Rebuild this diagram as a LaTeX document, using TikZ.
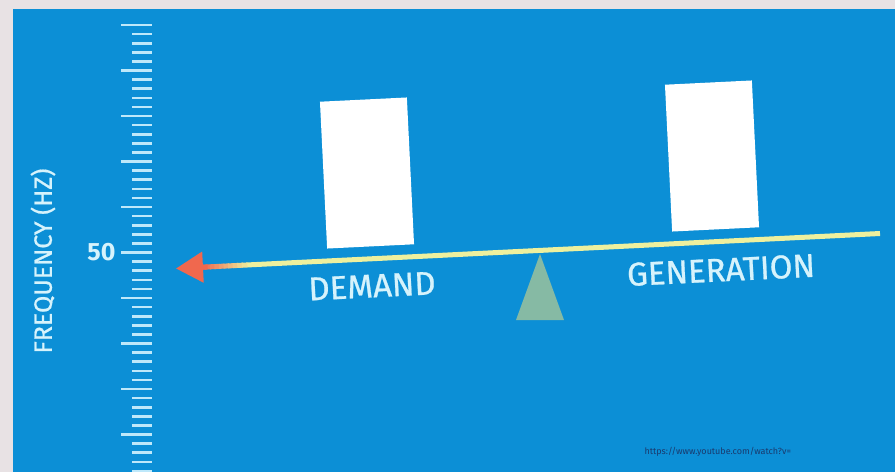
\documentclass[tikz,border=0pt]{standalone}
\usepackage{fontspec}
\setmainfont{Fira Sans}
\newfontfamily\lblfont{Fira Sans}[FakeBold=0.7]
\usetikzlibrary{arrows.meta,calc}
\definecolor{bgblue}{RGB}{12,143,214}
\definecolor{framec}{RGB}{232,226,228}
\definecolor{beamc}{RGB}{238,240,158}
\definecolor{arrc}{RGB}{240,104,78}
\definecolor{tickc}{RGB}{190,232,250}
\definecolor{txtc}{RGB}{214,243,252}
\definecolor{pivc}{RGB}{134,186,164}
\definecolor{urlc}{RGB}{26,58,110}

\begin{document}
\begin{tikzpicture}[x=1pt,y=-1pt,
  tick/.style={tickc,line width=2.6pt},
  blk/.style={fill=white,minimum width=87pt,minimum height=147pt,inner sep=0pt,rotate=2.8},
  lbl/.style={txtc,font=\lblfont\fontsize{33}{33}\selectfont,rotate=2.84}]
  \useasboundingbox (0,0) rectangle (895,472);
  % frame and blue panel
  \fill[framec] (0,0) rectangle (895,472);
  \fill[bgblue] (13,9) rectangle (895,472);
  % ruler: minor ticks, then the longer ones every fifth
  \foreach \i in {0,...,49}
    \draw[tick] (132,25+9.1*\i) -- (152,25+9.1*\i);
  \foreach \i in {0,...,9}
    \draw[tick] (121,25+45.5*\i) -- (132,25+45.5*\i);
  \node[txtc,font=\fontsize{25}{25}\selectfont\bfseries,anchor=east] (f50) at (119,252.5) {50};
  \node[txtc,font=\lblfont\fontsize{25}{25}\selectfont,rotate=90] (fq) at (43,261) {FREQUENCY (HZ)};
  % the two loads on the beam
  \node[blk] (dem) at (367,173) {};
  \node[blk] (gen) at (712,156) {};
  % beam, turning red towards the arrow tip
  \coordinate (bl) at (176,268.5);
  \coordinate (br) at (880,233.5);
  \draw[beamc,line width=5pt] ($(bl)!0.1!(br)$) -- (br);
  \foreach \i [evaluate=\i as \p using int(100-10*\i),
               evaluate=\i as \a using 0.035+0.0065*\i,
               evaluate=\i as \b using 0.043+0.0065*\i] in {0,...,9}
    \draw[arrc!\p!beamc,line width=5pt] ($(bl)!\a!(br)$) -- ($(bl)!\b!(br)$);
  \draw[arrc,line width=5pt,-{Triangle[length=27pt,width=30pt]}] ($(bl)!0.045!(br)$) -- (bl);
  % fulcrum
  \coordinate (piv) at (540,254);
  \fill[pivc] (piv) -- (564,320) -- (516,320) -- cycle;
  % labels under the beam
  \node[lbl] (dl) at (372,286) {DEMAND};
  \node[lbl] (gl) at (721,270) {GENERATION};
  \node[urlc,font=\fontsize{9}{9}\selectfont,anchor=west] (url) at (641,452) {https://www.youtube.com/watch?v=};
\end{tikzpicture}
\end{document}
